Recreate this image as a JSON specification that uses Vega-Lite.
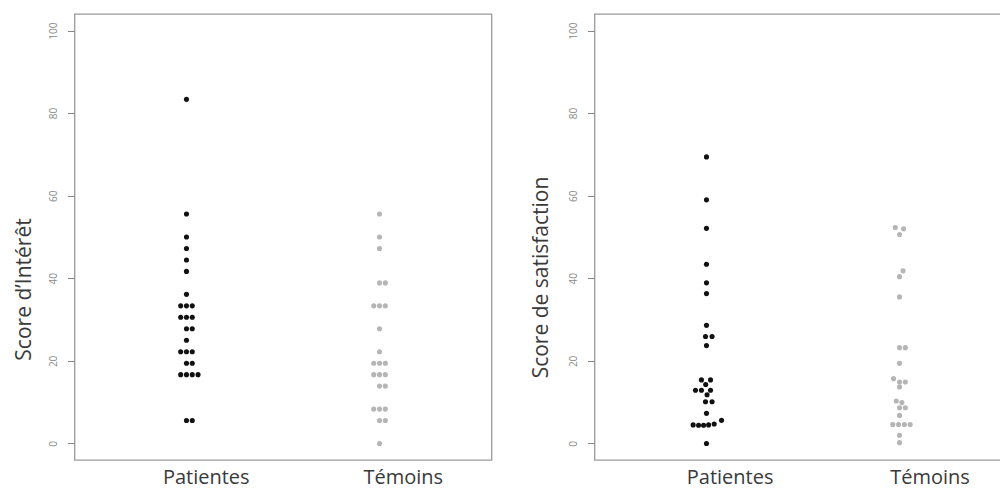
{
  "$schema": "https://vega.github.io/schema/vega-lite/v6.json",
  "padding": {"left": 11.5, "top": 13, "right": 0, "bottom": 0},
  "background": "white",
  "spacing": 37,
  "config": {
    "view": {"stroke": "#9a9a9a", "strokeWidth": 1.3},
    "font": "Open Sans"
  },
  "datasets": {
    "interet": [
      {"g": "Patientes", "s": 83.33, "x": 1.0},
      {"g": "Patientes", "s": 55.56, "x": 1.0},
      {"g": "Patientes", "s": 50.0, "x": 1.0},
      {"g": "Patientes", "s": 47.22, "x": 1.0},
      {"g": "Patientes", "s": 44.44, "x": 1.0},
      {"g": "Patientes", "s": 41.67, "x": 1.0},
      {"g": "Patientes", "s": 36.11, "x": 1.0},
      {"g": "Patientes", "s": 33.33, "x": 0.97},
      {"g": "Patientes", "s": 33.33, "x": 1.0},
      {"g": "Patientes", "s": 33.33, "x": 1.03},
      {"g": "Patientes", "s": 30.56, "x": 0.97},
      {"g": "Patientes", "s": 30.56, "x": 1.0},
      {"g": "Patientes", "s": 30.56, "x": 1.03},
      {"g": "Patientes", "s": 27.78, "x": 1.0},
      {"g": "Patientes", "s": 27.78, "x": 1.03},
      {"g": "Patientes", "s": 25.0, "x": 1.0},
      {"g": "Patientes", "s": 22.22, "x": 0.97},
      {"g": "Patientes", "s": 22.22, "x": 1.0},
      {"g": "Patientes", "s": 22.22, "x": 1.03},
      {"g": "Patientes", "s": 19.44, "x": 1.0},
      {"g": "Patientes", "s": 19.44, "x": 1.03},
      {"g": "Patientes", "s": 16.67, "x": 0.97},
      {"g": "Patientes", "s": 16.67, "x": 1.0},
      {"g": "Patientes", "s": 16.67, "x": 1.03},
      {"g": "Patientes", "s": 16.67, "x": 1.06},
      {"g": "Patientes", "s": 5.56, "x": 1.0},
      {"g": "Patientes", "s": 5.56, "x": 1.03},
      {"g": "Témoins", "s": 55.56, "x": 2.0},
      {"g": "Témoins", "s": 50.0, "x": 2.0},
      {"g": "Témoins", "s": 47.22, "x": 2.0},
      {"g": "Témoins", "s": 38.89, "x": 2.0},
      {"g": "Témoins", "s": 38.89, "x": 2.03},
      {"g": "Témoins", "s": 33.33, "x": 1.97},
      {"g": "Témoins", "s": 33.33, "x": 2.0},
      {"g": "Témoins", "s": 33.33, "x": 2.03},
      {"g": "Témoins", "s": 27.78, "x": 2.0},
      {"g": "Témoins", "s": 22.22, "x": 2.0},
      {"g": "Témoins", "s": 19.44, "x": 1.97},
      {"g": "Témoins", "s": 19.44, "x": 2.0},
      {"g": "Témoins", "s": 19.44, "x": 2.03},
      {"g": "Témoins", "s": 16.67, "x": 1.97},
      {"g": "Témoins", "s": 16.67, "x": 2.0},
      {"g": "Témoins", "s": 16.67, "x": 2.03},
      {"g": "Témoins", "s": 13.89, "x": 2.0},
      {"g": "Témoins", "s": 13.89, "x": 2.03},
      {"g": "Témoins", "s": 8.33, "x": 1.97},
      {"g": "Témoins", "s": 8.33, "x": 2.0},
      {"g": "Témoins", "s": 8.33, "x": 2.03},
      {"g": "Témoins", "s": 5.56, "x": 2.0},
      {"g": "Témoins", "s": 5.56, "x": 2.03},
      {"g": "Témoins", "s": 0.0, "x": 2.0}
    ],
    "satisfaction": [
      {"g": "Patientes", "s": 69.4, "x": 1.0},
      {"g": "Patientes", "s": 59.0, "x": 1.0},
      {"g": "Patientes", "s": 52.1, "x": 1.0},
      {"g": "Patientes", "s": 43.4, "x": 1.0},
      {"g": "Patientes", "s": 38.9, "x": 1.0},
      {"g": "Patientes", "s": 36.3, "x": 1.0},
      {"g": "Patientes", "s": 28.6, "x": 1.0},
      {"g": "Patientes", "s": 25.9, "x": 0.995},
      {"g": "Patientes", "s": 25.9, "x": 1.029},
      {"g": "Patientes", "s": 23.7, "x": 1.0},
      {"g": "Patientes", "s": 15.4, "x": 0.974},
      {"g": "Patientes", "s": 15.4, "x": 1.021},
      {"g": "Patientes", "s": 14.3, "x": 0.996},
      {"g": "Patientes", "s": 12.9, "x": 0.943},
      {"g": "Patientes", "s": 12.9, "x": 0.974},
      {"g": "Patientes", "s": 12.9, "x": 1.021},
      {"g": "Patientes", "s": 11.8, "x": 1.003},
      {"g": "Patientes", "s": 10.1, "x": 0.995},
      {"g": "Patientes", "s": 10.1, "x": 1.029},
      {"g": "Patientes", "s": 7.3, "x": 1.0},
      {"g": "Patientes", "s": 4.5, "x": 0.931},
      {"g": "Patientes", "s": 4.4, "x": 0.959},
      {"g": "Patientes", "s": 4.4, "x": 0.985},
      {"g": "Patientes", "s": 4.5, "x": 1.011},
      {"g": "Patientes", "s": 4.7, "x": 1.04},
      {"g": "Patientes", "s": 5.6, "x": 1.078},
      {"g": "Patientes", "s": 0.0, "x": 1.0},
      {"g": "Témoins", "s": 52.3, "x": 1.978},
      {"g": "Témoins", "s": 52.0, "x": 2.021},
      {"g": "Témoins", "s": 50.6, "x": 2.0},
      {"g": "Témoins", "s": 41.8, "x": 2.018},
      {"g": "Témoins", "s": 40.4, "x": 2.0},
      {"g": "Témoins", "s": 35.5, "x": 2.0},
      {"g": "Témoins", "s": 23.2, "x": 2.0},
      {"g": "Témoins", "s": 23.2, "x": 2.03},
      {"g": "Témoins", "s": 19.4, "x": 2.0},
      {"g": "Témoins", "s": 15.7, "x": 1.969},
      {"g": "Témoins", "s": 14.9, "x": 2.0},
      {"g": "Témoins", "s": 14.9, "x": 2.03},
      {"g": "Témoins", "s": 13.7, "x": 2.0},
      {"g": "Témoins", "s": 10.3, "x": 1.983},
      {"g": "Témoins", "s": 9.9, "x": 2.012},
      {"g": "Témoins", "s": 8.65, "x": 2.0},
      {"g": "Témoins", "s": 8.65, "x": 2.03},
      {"g": "Témoins", "s": 6.8, "x": 2.0},
      {"g": "Témoins", "s": 4.6, "x": 1.965},
      {"g": "Témoins", "s": 4.6, "x": 1.995},
      {"g": "Témoins", "s": 4.6, "x": 2.025},
      {"g": "Témoins", "s": 4.6, "x": 2.055},
      {"g": "Témoins", "s": 2.0, "x": 2.0},
      {"g": "Témoins", "s": 0.2, "x": 2.0}
    ]
  },
  "hconcat": [
    {
      "width": 417,
      "height": 446,
      "data": {"name": "interet"},
      "mark": {"type": "circle", "size": 26, "opacity": 1},
      "encoding": {
        "x": {
          "field": "x", "type": "quantitative",
          "scale": {"domain": [0.42, 2.58], "nice": false, "zero": false},
          "axis": {
            "values": [1.1, 2.12],
            "labelExpr": "datum.value < 1.5 ? 'Patientes' : 'Témoins'",
            "ticks": false, "tickSize": 0, "domain": false, "grid": false, "title": null,
            "labelFontSize": 20, "labelColor": "#3a3a3a", "labelPadding": 17,
            "labelBaseline": "middle", "labelFlush": false, "labelOverlap": false
          }
        },
        "y": {
          "field": "s", "type": "quantitative",
          "scale": {"domain": [-4, 104], "nice": false, "zero": false},
          "axis": {
            "values": [0, 20, 40, 60, 80, 100],
            "grid": false, "domain": false, "tickColor": "#888888", "tickSize": 7,
            "labelAngle": -90, "labelAlign": "center", "labelBaseline": "middle",
            "labelFontSize": 10, "labelColor": "#8a8a8a", "labelPadding": 14,
            "title": "Score d’Intérêt", "titleFontSize": 21, "titleFontWeight": "normal",
            "titleColor": "#3a3a3a", "titleX": -50.5, "titleY": 275, "titleAngle": -90,
            "titleAlign": "center", "titleBaseline": "middle"
          }
        },
        "color": {
          "field": "g", "type": "nominal",
          "scale": {"domain": ["Patientes", "Témoins"], "range": ["#111111", "#b5b5b5"]},
          "legend": null
        }
      }
    },
    {
      "width": 417,
      "height": 446,
      "data": {"name": "satisfaction"},
      "mark": {"type": "circle", "size": 26, "opacity": 1},
      "encoding": {
        "x": {
          "field": "x", "type": "quantitative",
          "scale": {"domain": [0.42, 2.58], "nice": false, "zero": false},
          "axis": {
            "values": [1.12, 2.155],
            "labelExpr": "datum.value < 1.5 ? 'Patientes' : 'Témoins'",
            "ticks": false, "tickSize": 0, "domain": false, "grid": false, "title": null,
            "labelFontSize": 20, "labelColor": "#3a3a3a", "labelPadding": 17,
            "labelBaseline": "middle", "labelFlush": false, "labelOverlap": false
          }
        },
        "y": {
          "field": "s", "type": "quantitative",
          "scale": {"domain": [-4, 104], "nice": false, "zero": false},
          "axis": {
            "values": [0, 20, 40, 60, 80, 100],
            "grid": false, "domain": false, "tickColor": "#888888", "tickSize": 7,
            "labelAngle": -90, "labelAlign": "center", "labelBaseline": "middle",
            "labelFontSize": 10, "labelColor": "#8a8a8a", "labelPadding": 14,
            "title": "Score de satisfaction", "titleFontSize": 21, "titleFontWeight": "normal",
            "titleColor": "#3a3a3a", "titleX": -53, "titleY": 263, "titleAngle": -90,
            "titleAlign": "center", "titleBaseline": "middle"
          }
        },
        "color": {
          "field": "g", "type": "nominal",
          "scale": {"domain": ["Patientes", "Témoins"], "range": ["#111111", "#b5b5b5"]},
          "legend": null
        }
      }
    }
  ]
}
